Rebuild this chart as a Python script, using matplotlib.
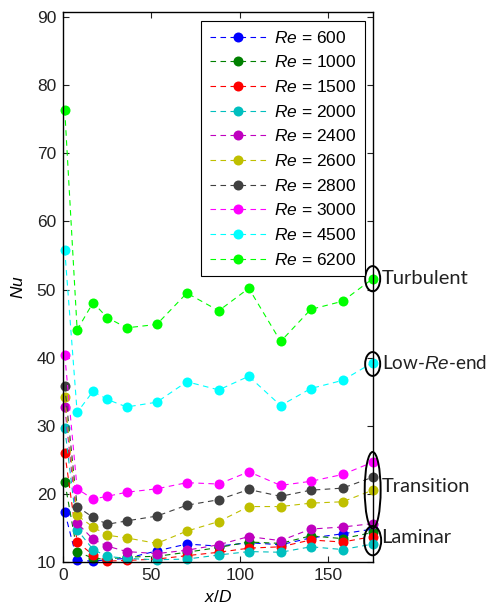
import numpy as np
import matplotlib.pyplot as plt
from matplotlib.patches import Ellipse

plt.rcParams['font.family'] = ['Liberation Sans', 'DejaVu Sans']
plt.rcParams['mathtext.fontset'] = 'custom'
plt.rcParams['mathtext.rm'] = 'Liberation Sans'
plt.rcParams['mathtext.it'] = 'Liberation Sans:italic'

# streamwise stations
x_d = [1, 8, 17, 25, 36, 53, 70, 88, 105, 123, 140, 158, 175]

re_values = [600, 1000, 1500, 2000, 2400, 2600, 2800, 3000, 4500, 6200]

nu_600 = [17.4, 10.3, 10.2, 10.4, 10.6, 11.7, 12.7, 12.4, 12.9, 12.6, 13.6, 14.2, 14.9]
nu_1000 = [21.8, 11.6, 10.6, 10.5, 10.8, 10.9, 11.5, 12.2, 13.0, 12.8, 13.9, 13.5, 14.4]
nu_1500 = [26.1, 13.0, 11.1, 10.2, 10.3, 10.5, 11.0, 11.5, 12.1, 12.3, 13.3, 13.0, 13.8]
nu_2000 = [29.7, 14.8, 11.9, 10.9, 10.6, 10.4, 10.5, 11.1, 11.6, 11.5, 12.3, 11.9, 12.7]
nu_2400 = [32.8, 15.8, 13.4, 12.4, 11.6, 11.3, 11.8, 12.6, 13.8, 13.2, 14.9, 15.2, 15.7]
nu_2600 = [34.2, 16.9, 15.2, 14.0, 13.6, 12.8, 14.6, 16.0, 18.2, 18.2, 18.7, 18.9, 20.6]
nu_2800 = [35.9, 18.2, 16.6, 15.6, 16.1, 16.8, 18.4, 19.2, 20.7, 19.7, 20.6, 20.9, 22.5]
nu_3000 = [40.4, 20.8, 19.3, 19.7, 20.3, 20.8, 21.7, 21.5, 23.3, 21.3, 21.9, 22.9, 24.7]
nu_4500 = [55.8, 32.0, 35.1, 33.9, 32.8, 33.5, 36.5, 35.3, 37.3, 33.0, 35.5, 36.7, 39.3]
nu_6200 = [76.3, 44.1, 48.1, 45.9, 44.4, 44.9, 49.5, 46.9, 50.2, 42.4, 47.1, 48.3, 51.6]

all_nu = [nu_600, nu_1000, nu_1500, nu_2000, nu_2400,
          nu_2600, nu_2800, nu_3000, nu_4500, nu_6200]
colors = ['#0000ff', '#008000', '#ff0000', '#00bfbf', '#bf00bf',
          '#bfbf00', '#404040', '#ff00ff', '#00ffff', '#00ff00']

fig = plt.figure(figsize=(4.91, 6.10), dpi=100)
ax = fig.add_axes([0.1283, 0.0779, 0.6307, 0.9024])

for re, nu, c in zip(re_values, all_nu, colors):
    ax.plot(x_d, nu, color=c, linestyle=(0, (5, 4)), linewidth=0.8,
            marker='o', markersize=7.2, markeredgewidth=0, markerfacecolor=c,
            label=r'$Re$ = %d' % re, clip_on=False)

ax.set_xlim(0, 175)
ax.set_ylim(10, 90.7)
ax.set_xticks([0, 50, 100, 150])
ax.set_yticks(np.arange(10, 91, 10))
ax.tick_params(direction='in', top=True, right=True, labelsize=12.5,
               colors='#222222', length=4, pad=4)
ax.tick_params(axis='y', pad=5)
for sp in ax.spines.values():
    sp.set_linewidth(1.0)
ax.set_xlabel(r'$x/D$', fontsize=12.5, labelpad=4)
ax.set_ylabel(r'$Nu$', fontsize=12.5, labelpad=8)

leg = ax.legend(loc='upper left', bbox_to_anchor=(0.4456, 0.9837),
                borderaxespad=0, fontsize=12.5, handlelength=3.3,
                labelspacing=0.5, fancybox=False, framealpha=1,
                edgecolor='black', handletextpad=0.4, borderpad=0.5)
leg.get_frame().set_linewidth(0.8)

# regime groupings at the outlet
regimes = [
    ('Turbulent', 51.6, 8.5, 3.7, 51.7, 14.5),
    ('Low-$Re$-end', 39.1, 8.5, 3.5, 39.3, 13.6),
    ('Transition', 20.6, 9.0, 11.2, 21.1, 14.5),
    ('Laminar', 13.2, 9.6, 4.3, 13.7, 14.5),
]
for name, yc, w, h, ty, fs in regimes:
    ax.add_patch(Ellipse((175, yc), w, h, fill=False, edgecolor='black',
                         linewidth=1.4, clip_on=False, zorder=5))
    ax.text(180.0, ty, name, fontsize=fs, family='Lato', va='center',
            ha='left', color='#222222')

fig.savefig('out.png', dpi=100)
